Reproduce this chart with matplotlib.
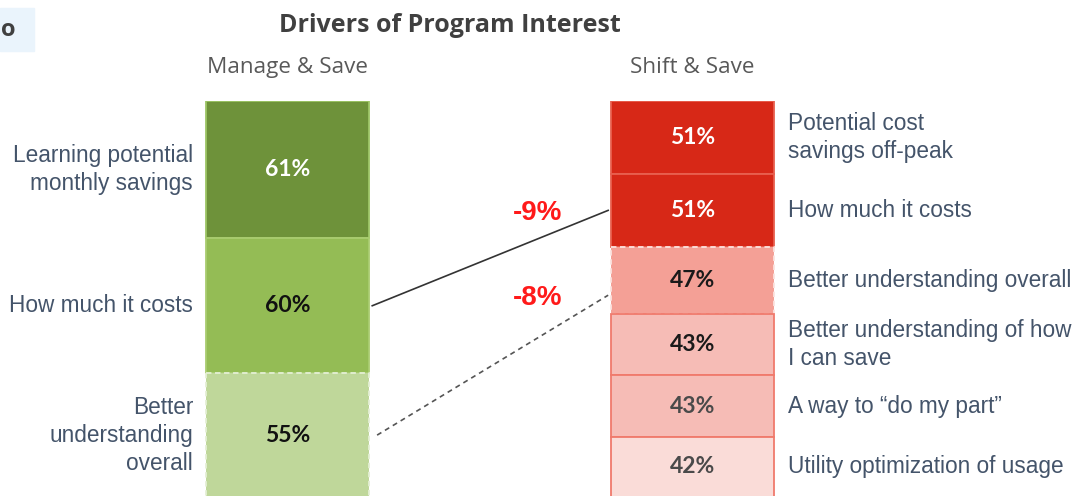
import matplotlib
matplotlib.use("Agg")
import matplotlib.pyplot as plt
from matplotlib.patches import Rectangle

# ---------------- data ----------------
title = "Drivers of Program Interest"
groups = ["Manage & Save", "Shift & Save"]
left_labels = ["Learning potential\nmonthly savings", "How much it costs",
               "Better\nunderstanding\noverall"]
left_values = [61, 60, 55]
right_labels = ["Potential cost\nsavings off-peak", "How much it costs",
                "Better understanding overall",
                "Better understanding of how\nI can save",
                "A way to \u201cdo my part\u201d", "Utility optimization of usage"]
right_values = [51, 51, 47, 43, 43, 42]
# connections between matching drivers (left index, right index, style)
links = [(1, 1, "-"), (2, 2, "--")]

# ---------------- styles ----------------
left_colors = ["#6E923A", "#94BC55", "#BFD79A"]
left_edges = ["#9DC566", "#A9CC70", "#E4EFD4"]
left_ls = ["-", "-", (0, (3, 2))]
left_txt = ["white", "#111111", "#111111"]
right_colors = ["#D72817", "#D72817", "#F4A096", "#F6BCB6", "#F6BCB6", "#FADCD8"]
right_edges = ["#E8604F", "#E8604F", "#FBE3DF", "#F07A6C", "#F07A6C", "#F07A6C"]
right_ls = ["-", "-", (0, (3, 2)), "-", "-", "-"]
right_txt = ["white", "white", "#1A1A1A", "#1A1A1A", "#4A4A4A", "#4A4A4A"]
label_color = "#44546A"

W, H = 1077, 496
fig = plt.figure(figsize=(W / 100, H / 100), dpi=100)
ax = fig.add_axes([0, -1 / H, 1, 396 / H])
ax.set_xlim(-287.5 / 405, (W - 287.5) / 405)
ax.set_ylim(1, 0)
ax.axis("off")

bar_w = 163 / 405
xs = [0, 1]
pct_font = dict(family="Lato", weight="bold", fontsize=16.5)
side_font = dict(family="Liberation Sans", fontsize=16.3, color=label_color)


def stack(x, values, colors, edges, lss, txtc):
    total = float(sum(values))
    centers = []
    cum = 0.0
    for v, c, e, ls, tc in zip(values, colors, edges, lss, txtc):
        frac = v / total
        ax.bar(x, frac, bottom=cum, width=bar_w, color=c, edgecolor=e,
               linewidth=1.3, linestyle=ls, zorder=2)
        ax.text(x, cum + frac / 2, f"{v}%", ha="center", va="center",
                color=tc, zorder=4, **pct_font)
        centers.append((cum, frac))
        cum += frac
    return centers


lc = stack(xs[0], left_values, left_colors, left_edges, left_ls, left_txt)
rc = stack(xs[1], right_values, right_colors, right_edges, right_ls, right_txt)

for lab, (b, f) in zip(left_labels, lc):
    ax.annotate(lab, xy=(xs[0] - bar_w / 2, b + f / 2), xytext=(-13, 0),
                textcoords="offset pixels", ha="right", va="center",
                multialignment="right", linespacing=1.28, **side_font)
for lab, (b, f) in zip(right_labels, rc):
    ax.annotate(lab, xy=(xs[1] + bar_w / 2, b + f / 2), xytext=(14, 0),
                textcoords="offset pixels", ha="left", va="center",
                multialignment="left", linespacing=1.3, **side_font)

# connectors and change labels
for li, ri, ls in links:
    lb, lf = lc[li]
    rb, rf = rc[ri]
    y0 = lb + lf / 2
    y1 = rb + rf * (0.5 if ls == "-" else 0.72)
    x0 = xs[0] + bar_w / 2 + (0.008 if ls == "-" else 0.02)
    x1 = xs[1] - bar_w / 2 - 0.007
    ax.plot([x0, x1], [y0, y1], color="#333333" if ls == "-" else "#555555",
            lw=1.2, linestyle="-" if ls == "-" else (0, (3, 2.5)), zorder=3)
    delta = right_values[ri] - left_values[li]
    ax.annotate(f"{delta}%", xy=(x1, y1), xytext=(-46, -3),
                textcoords="offset pixels", ha="right", va="center",
                family="Liberation Sans", weight="bold", fontsize=20,
                color="#FF1A1A")

# group headers
for x, g in zip(xs, groups):
    ax.annotate(g, xy=(x, 0), xytext=(0, 34), textcoords="offset pixels",
                ha="center", va="center", family="Open Sans", fontsize=16.2,
                color="#595959", annotation_clip=False)

fig.text(450 / W, 1 - 26 / H, title, ha="center", va="center",
         family="Open Sans", weight="bold", fontsize=18, color="#404040")

# cropped tag at top-left
fig.patches.append(Rectangle((0, 1 - 51 / H), 34 / W, 43 / H,
                             transform=fig.transFigure, color="#EAF4FC",
                             zorder=0))
fig.text(1 / W, 1 - 30 / H, "o", ha="left", va="center", family="Open Sans",
         weight="bold", fontsize=17, color="#404040")

fig.savefig("out.png", dpi=100)
